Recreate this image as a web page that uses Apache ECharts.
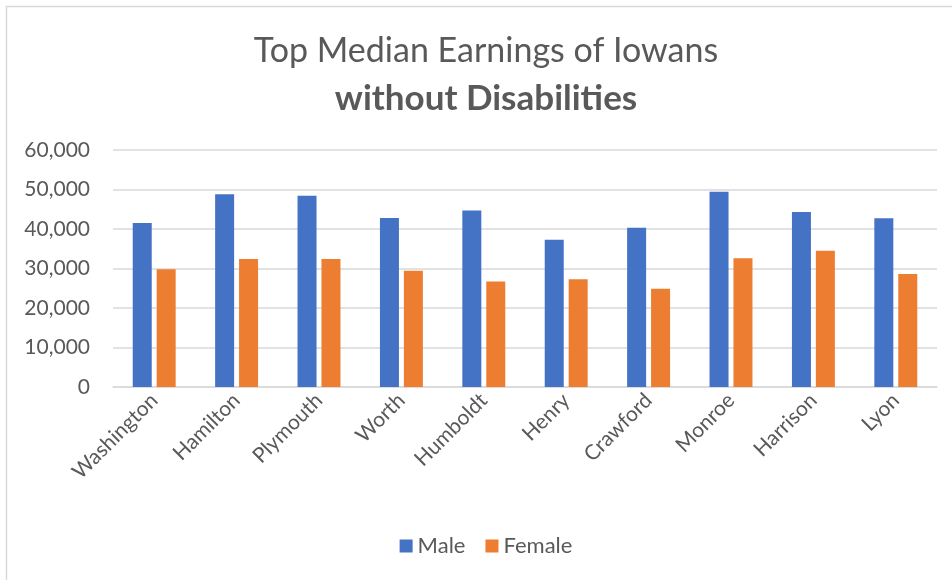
<!DOCTYPE html>
<html>
<head>
<meta charset="utf-8">
<style>
  html, body { margin: 0; padding: 0; background: #fff; overflow: hidden; }
  #chart { width: 972px; height: 580px; }
</style>
<script src="https://cdn.jsdelivr.net/npm/echarts@6/dist/echarts.min.js"></script>
</head>
<body>
<div id="chart"></div>
<script>
// Counties ranked by median earnings
const counties = ['Washington', 'Hamilton', 'Plymouth', 'Worth', 'Humboldt', 'Henry', 'Crawford', 'Monroe', 'Harrison', 'Lyon'];
const maleEarnings = [41500, 48800, 48400, 42800, 44700, 37300, 40300, 49400, 44300, 42700];
const femaleEarnings = [29800, 32400, 32400, 29400, 26700, 27300, 24900, 32600, 34500, 28600];
const yTicks = [0, 10000, 20000, 30000, 40000, 50000, 60000];

const FONT = 'Lato, "Open Sans", sans-serif';
const TEXT = '#595959';
const GRID = '#d9d9d9';

const chart = echarts.init(document.getElementById('chart'), null, { renderer: 'canvas' });

chart.setOption({
  animation: false,
  backgroundColor: '#ffffff',
  textStyle: { fontFamily: FONT },
  graphic: [{
    type: 'rect',
    shape: { x: 6.5, y: 6.5, width: 1000, height: 700 },
    style: { fill: 'none', stroke: GRID, lineWidth: 1.5 },
    silent: true
  }],
  title: [
    {
      text: 'Top Median Earnings of Iowans',
      left: 'center',
      top: 29,
      textStyle: { fontFamily: FONT, fontSize: 34, fontWeight: 'normal', color: TEXT }
    },
    {
      text: 'without Disabilities',
      left: 'center',
      top: 76,
      textStyle: { fontFamily: FONT, fontSize: 35, fontWeight: 'bold', color: TEXT }
    }
  ],
  legend: {
    bottom: 18,
    left: 'center',
    itemWidth: 13,
    itemHeight: 13,
    itemGap: 20,
    icon: 'rect',
    textStyle: { fontFamily: FONT, fontSize: 22, color: TEXT },
    data: ['Male', 'Female']
  },
  grid: { left: 113, right: 35, top: 150, bottom: 193 },
  xAxis: {
    type: 'category',
    data: counties,
    axisLine: { show: true, lineStyle: { color: GRID, width: 1.5 } },
    axisTick: { show: false },
    axisLabel: {
      rotate: 45,
      margin: 10,
      interval: 0,
      fontFamily: FONT,
      fontSize: 21,
      color: TEXT
    }
  },
  yAxis: {
    type: 'value',
    min: 0,
    max: 60000,
    interval: 10000,
    axisLine: { show: false },
    axisTick: { show: false },
    splitLine: { lineStyle: { color: GRID, width: 1.5 } },
    axisLabel: {
      margin: 23,
      fontFamily: FONT,
      fontSize: 21,
      color: TEXT,
      formatter: v => yTicks.includes(v) ? v.toLocaleString('en-US') : ''
    }
  },
  series: [
    {
      name: 'Male',
      type: 'bar',
      data: maleEarnings,
      barWidth: 19,
      barGap: '26%',
      itemStyle: { color: '#4472C4' }
    },
    {
      name: 'Female',
      type: 'bar',
      data: femaleEarnings,
      barWidth: 19,
      itemStyle: { color: '#ED7D31' }
    }
  ]
});
</script>
</body>
</html>
